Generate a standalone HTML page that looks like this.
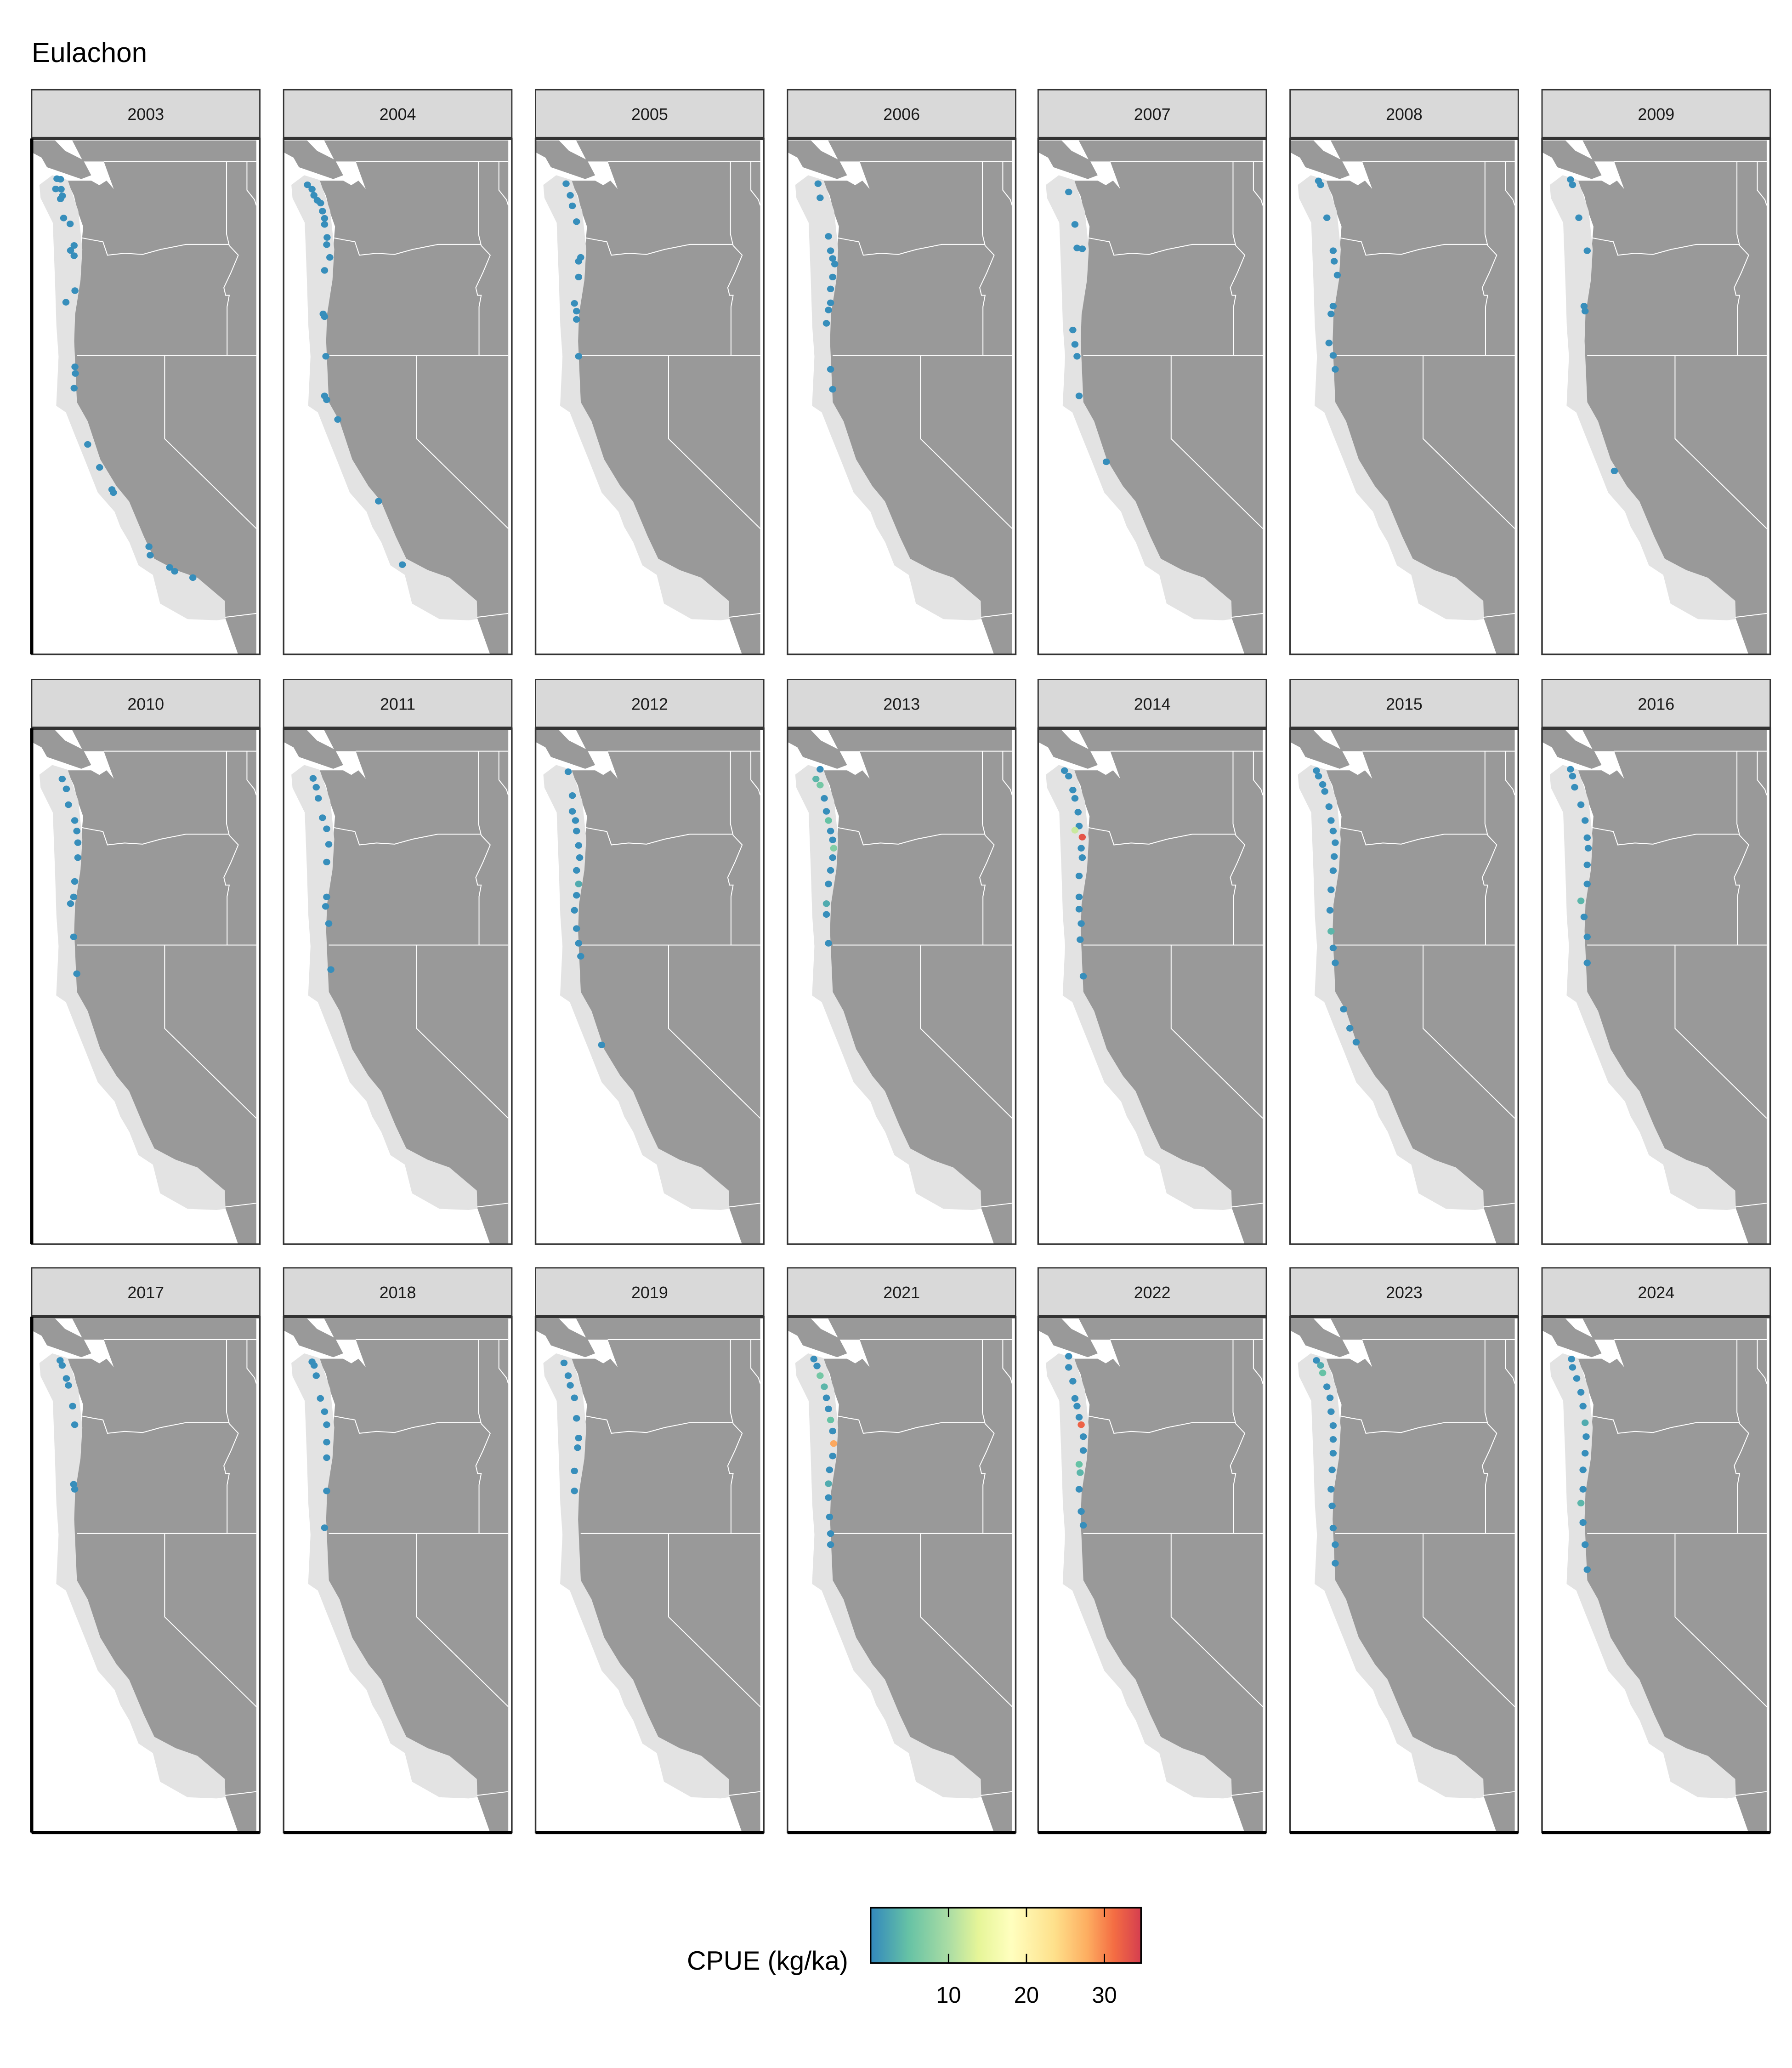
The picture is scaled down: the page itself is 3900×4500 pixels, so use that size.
<!DOCTYPE html>
<html><head><meta charset="utf-8"><style>html,body{margin:0;padding:0;background:#fff}svg{display:block}</style></head>
<body>
<svg id="chart" xmlns="http://www.w3.org/2000/svg" width="3900" height="4500" viewBox="0 0 1358.5 1567.5" preserveAspectRatio="none" font-family="Liberation Sans, sans-serif">
<rect width="1366" height="1576" fill="#fff"/>
<text x="24" y="47" font-size="21" fill="#000">Eulachon</text>
<g id="panels"></g>
<defs>
<linearGradient id="cbar" x1="0" x2="1" y1="0" y2="0">
<stop offset="0" stop-color="#3288bd"/><stop offset="0.14" stop-color="#66c2a5"/><stop offset="0.29" stop-color="#abdda4"/><stop offset="0.4" stop-color="#e6f598"/><stop offset="0.52" stop-color="#ffffbf"/><stop offset="0.68" stop-color="#fee08b"/><stop offset="0.8" stop-color="#fdae61"/><stop offset="0.9" stop-color="#f46d43"/><stop offset="1" stop-color="#d53e4f"/>
</linearGradient>
</defs>
<g>
<text x="643" y="1493" font-size="20" text-anchor="end">CPUE (kg/ka)</text>
<rect x="660" y="1446" width="205" height="42" fill="url(#cbar)" stroke="#000" stroke-width="1.2"/>
<g id="cticks"></g>
</g>
</svg>
<script>
var years = ["2003","2004","2005","2006","2007","2008","2009","2010","2011","2012","2013","2014","2015","2016","2017","2018","2019","2021","2022","2023","2024"];
var tickValues = [10, 20, 30];
var tickLabels = ["10", "20", "30"];
var cpueMax = 34.7;
var catch2003 = [[-125.15,48.38,0.5],[-124.98,48.36,0.5],[-125.21,48.01,0.5],[-124.95,48.0,0.5],[-124.89,47.76,0.5],[-124.98,47.65,0.5],[-124.83,46.96,0.5],[-124.52,46.75,0.5],[-124.33,45.97,0.5],[-124.5,45.79,0.5],[-124.33,45.6,0.5],[-124.29,44.34,0.5],[-124.72,43.92,0.5],[-124.29,41.59,0.5],[-124.27,41.35,0.5],[-124.33,40.82,0.5],[-123.68,38.79,0.5],[-123.11,37.96,0.5],[-122.52,37.16,0.5],[-122.45,37.05,0.5],[-120.75,35.1,0.5],[-120.69,34.79,0.5],[-119.76,34.35,0.5],[-119.52,34.21,0.5],[-118.65,33.98,0.5]];
var catch2004 = [[-125.22,48.16,0.5],[-125.0,48.0,0.5],[-124.91,47.78,0.5],[-124.75,47.6,0.5],[-124.59,47.5,0.5],[-124.5,47.21,0.5],[-124.4,46.95,0.5],[-124.4,46.73,0.5],[-124.28,46.26,0.5],[-124.3,46.0,0.5],[-124.15,45.54,0.5],[-124.4,45.07,0.5],[-124.47,43.5,0.5],[-124.4,43.4,0.5],[-124.34,41.97,0.5],[-124.4,40.54,0.5],[-124.3,40.4,0.5],[-123.77,39.69,0.5],[-121.82,36.74,0.5],[-120.68,34.45,0.5]];
var catch2005 = [[-124.9,48.2,0.5],[-124.7,47.78,0.5],[-124.6,47.4,0.5],[-124.4,46.83,0.5],[-124.2,45.54,0.5],[-124.3,45.4,0.5],[-124.3,44.83,0.5],[-124.5,43.88,0.5],[-124.4,43.6,0.5],[-124.4,43.3,0.5],[-124.3,41.97,0.5]];
var catch2006 = [[-124.9,48.2,0.5],[-124.8,47.69,0.5],[-124.4,46.3,0.5],[-124.3,45.78,0.5],[-124.2,45.5,0.5],[-124.1,45.3,0.5],[-124.2,44.83,0.5],[-124.3,44.4,0.5],[-124.3,43.9,0.5],[-124.4,43.64,0.5],[-124.5,43.16,0.5],[-124.3,41.5,0.5],[-124.2,40.78,0.5]];
var catch2007 = [[-124.9,47.9,0.5],[-124.6,46.73,0.5],[-124.5,45.88,0.5],[-124.25,45.85,0.5],[-124.7,42.92,0.5],[-124.6,42.4,0.5],[-124.5,41.97,0.5],[-124.4,40.54,0.5],[-123.1,38.16,0.5]];
var catch2008 = [[-125.0,48.3,0.5],[-124.9,48.16,0.5],[-124.6,46.97,0.5],[-124.3,45.78,0.5],[-124.25,45.4,0.5],[-124.1,44.9,0.5],[-124.3,43.78,0.5],[-124.4,43.5,0.5],[-124.5,42.45,0.5],[-124.3,42.0,0.5],[-124.2,41.5,0.5]];
var catch2009 = [[-125.0,48.35,0.5],[-124.9,48.16,0.5],[-124.6,46.97,0.5],[-124.2,45.78,0.5],[-124.35,43.78,0.5],[-124.3,43.6,0.5],[-122.9,37.83,0.5]];
var catch2010 = [[-124.9,48.0,0.5],[-124.7,47.64,0.5],[-124.6,47.07,0.5],[-124.3,46.5,0.5],[-124.2,46.12,0.5],[-124.15,45.7,0.5],[-124.15,45.16,0.5],[-124.3,44.3,0.5],[-124.35,43.74,0.5],[-124.5,43.5,0.5],[-124.35,42.3,0.5],[-124.2,40.97,0.5]];
var catch2011 = [[-124.95,48.02,0.5],[-124.8,47.7,0.5],[-124.7,47.3,0.5],[-124.5,46.6,0.5],[-124.3,46.2,0.5],[-124.2,45.64,0.5],[-124.3,45.0,0.5],[-124.3,43.74,0.5],[-124.35,43.4,0.5],[-124.2,42.78,0.5],[-124.1,41.12,0.5]];
var catch2012 = [[-124.8,48.26,0.5],[-124.6,47.4,0.5],[-124.6,46.83,0.5],[-124.45,46.5,0.5],[-124.4,46.12,0.5],[-124.3,45.6,0.5],[-124.25,45.16,0.5],[-124.4,44.7,0.5],[-124.3,44.21,3],[-124.4,43.8,0.5],[-124.5,43.26,0.5],[-124.4,42.6,0.5],[-124.3,42.07,0.5],[-124.2,41.6,0.5],[-123.2,38.4,0.5]];
var catch2013 = [[-124.8,48.35,0.5],[-125.0,48.0,4],[-124.8,47.78,6],[-124.6,47.3,0.5],[-124.5,46.83,0.5],[-124.4,46.5,5],[-124.3,46.12,0.5],[-124.2,45.8,0.5],[-124.15,45.5,7],[-124.2,45.16,0.5],[-124.3,44.7,0.5],[-124.4,44.21,0.5],[-124.5,43.5,3],[-124.5,43.11,0.5],[-124.4,42.07,0.5]];
var catch2014 = [[-125.1,48.3,0.5],[-124.9,48.1,0.5],[-124.7,47.6,0.5],[-124.6,47.3,0.5],[-124.45,46.8,0.5],[-124.4,46.3,0.5],[-124.6,46.15,12],[-124.25,45.9,33],[-124.3,45.5,0.5],[-124.25,45.16,0.5],[-124.4,44.5,0.5],[-124.4,43.74,0.5],[-124.4,43.3,0.5],[-124.3,42.78,0.5],[-124.35,42.2,0.5],[-124.2,40.88,0.5]];
var catch2015 = [[-125.1,48.3,0.5],[-125.0,48.1,0.5],[-124.8,47.8,0.5],[-124.7,47.55,0.5],[-124.5,47.0,0.5],[-124.4,46.5,0.5],[-124.3,46.12,0.5],[-124.2,45.7,0.5],[-124.25,45.2,0.5],[-124.3,44.69,0.5],[-124.4,44.0,0.5],[-124.45,43.26,0.5],[-124.4,42.5,4],[-124.3,41.9,0.5],[-124.2,41.36,0.5],[-123.8,39.69,0.5],[-123.5,39.0,0.5],[-123.2,38.5,0.5]];
var catch2016 = [[-125.0,48.35,0.5],[-124.9,48.1,0.5],[-124.8,47.7,0.5],[-124.5,47.07,0.5],[-124.3,46.5,0.5],[-124.2,45.88,0.5],[-124.15,45.5,0.5],[-124.2,44.9,0.5],[-124.2,44.21,0.5],[-124.5,43.6,4],[-124.35,43.02,0.5],[-124.2,42.3,0.5],[-124.2,41.36,0.5]];
var catch2017 = [[-125.0,48.25,0.5],[-124.9,48.07,0.5],[-124.7,47.6,0.5],[-124.6,47.35,0.5],[-124.4,46.6,0.5],[-124.3,45.93,0.5],[-124.35,43.78,0.5],[-124.3,43.6,0.5]];
var catch2018 = [[-125.0,48.2,0.5],[-124.9,48.07,0.5],[-124.8,47.7,0.5],[-124.6,46.88,0.5],[-124.4,46.4,0.5],[-124.3,45.93,0.5],[-124.3,45.3,0.5],[-124.3,44.74,0.5],[-124.3,43.54,0.5],[-124.4,42.21,0.5]];
var catch2019 = [[-125.0,48.16,0.5],[-124.8,47.7,0.5],[-124.7,47.35,0.5],[-124.5,46.9,0.5],[-124.4,46.16,0.5],[-124.3,45.45,0.5],[-124.35,45.1,0.5],[-124.5,44.26,0.5],[-124.5,43.54,0.5]];
var catch2021 = [[-125.1,48.3,0.5],[-124.95,48.05,0.5],[-124.8,47.7,6],[-124.6,47.3,4],[-124.5,46.9,0.5],[-124.4,46.5,0.5],[-124.3,46.1,5],[-124.2,45.7,0.5],[-124.15,45.25,28],[-124.2,44.8,0.5],[-124.35,44.3,0.5],[-124.4,43.8,3],[-124.4,43.3,0.5],[-124.35,42.6,0.5],[-124.3,42.0,0.5],[-124.3,41.6,0.5]];
var catch2022 = [[-124.9,48.4,0.5],[-124.9,48.0,0.5],[-124.7,47.5,0.5],[-124.6,46.88,0.5],[-124.5,46.6,0.5],[-124.4,46.2,0.5],[-124.3,45.93,32],[-124.2,45.5,0.5],[-124.2,45.0,0.5],[-124.4,44.5,5],[-124.35,44.2,4],[-124.4,43.6,0.5],[-124.3,42.8,0.5],[-124.2,42.3,0.5]];
var catch2023 = [[-125.1,48.25,0.5],[-124.9,48.07,3],[-124.8,47.8,5],[-124.6,47.3,0.5],[-124.45,46.9,0.5],[-124.4,46.4,0.5],[-124.3,45.9,0.5],[-124.3,45.4,0.5],[-124.3,44.9,0.5],[-124.35,44.3,0.5],[-124.4,43.6,0.5],[-124.35,43.0,0.5],[-124.3,42.2,0.5],[-124.2,41.6,0.5],[-124.2,40.93,0.5]];
var catch2024 = [[-124.95,48.3,0.5],[-124.9,48.0,0.5],[-124.7,47.6,0.5],[-124.5,47.1,0.5],[-124.4,46.6,0.5],[-124.3,46.0,3],[-124.25,45.5,0.5],[-124.3,44.9,0.5],[-124.4,44.3,0.5],[-124.4,43.6,0.5],[-124.5,43.1,4],[-124.4,42.4,0.5],[-124.3,41.6,0.5],[-124.2,40.7,0.5]];
var catches = [catch2003,catch2004,catch2005,catch2006,catch2007,catch2008,catch2009,catch2010,catch2011,catch2012,catch2013,catch2014,catch2015,catch2016,catch2017,catch2018,catch2019,catch2021,catch2022,catch2023,catch2024];

var NS = "http://www.w3.org/2000/svg";
var colX = [24,215,406,597,787,978,1169], rowY = [68,515,961];
var PW = 173, SH = 37, PH = 391;
function xLon(lon){ return (lon + 126.36) * 15.85; }
function yLat(lat){ return (49.83 - lat) * 21; }
function xBar(v){ return 660 + v / cpueMax * 205; }
var stops = [[0,[50,136,189]],[5,[102,194,165]],[10,[171,221,164]],[14,[230,245,152]],[18,[255,255,191]],[23.5,[254,224,139]],[27.7,[253,174,97]],[31.2,[244,109,67]],[34.7,[213,62,79]]];
function colorOf(v){
  for (var i=1;i<stops.length;i++){ if (v<=stops[i][0]){ var a=stops[i-1],b=stops[i],t=(v-a[0])/(b[0]-a[0]);
    var c=a[1].map(function(q,k){return Math.round(q+(b[1][k]-q)*t);}); return "rgb("+c.join(",")+")"; } }
  return "rgb(213,62,79)";
}
function mk(tag, attrs){ var e=document.createElementNS(NS,tag); for (var k in attrs) e.setAttribute(k, attrs[k]); return e; }

var landMain = "410,195 1430,195 1430,1540 1330,1540 1255,1440 1160,1380 1100,1340 980,1320 860,1290 800,1230 720,1140 650,1100 620,1090 540,1030 460,960 430,880 420,780 410,720 415,650 450,560 460,480 470,420 440,380 420,340 380,300 515,300 560,312 600,300 640,322 600,270 585,250 470,250";
var landIsland = "185,195 315,195 370,222 470,246 515,286 460,296 270,265 240,240 185,226";
var grid = "232,312 300,288 382,300 440,380 462,480 452,560 422,650 417,720 432,880 492,930 562,1030 652,1100 722,1140 802,1230 862,1290 982,1320 1102,1340 1252,1400 1255,1445 1210,1448 1050,1445 900,1405 860,1330 780,1305 730,1245 680,1205 648,1165 555,1115 488,1035 428,965 378,905 325,888 338,760 326,680 318,560 306,410 238,345";
var borders = ["465,450 520,455 580,460 605,495 700,490 800,493 900,480 1040,467 1280,467",
  "1265,250 1265,440 1280,470 1330,495 1290,540 1250,580 1260,600 1280,600 1268,630 1268,757",
  "435,757 1430,757","922,757 922,975 1430,1210","585,250 1430,250","1378,250 1378,325 1420,350 1430,365","1255,1442 1430,1432"];

var panels = document.getElementById("panels");
var defs = document.querySelector("defs");
years.forEach(function(yr, i){
  var c = i % 7, r = Math.floor(i / 7);
  var x0 = colX[c], y0 = rowY[r] + SH;
  var g = mk("g", {});
  
  
  var strip = mk("rect", {x:x0, y:rowY[r], width:PW, height:SH, fill:"#d9d9d9", stroke:"#333", "stroke-width":1});
  
  
  g.appendChild(strip);
  var lab = mk("text", {x:x0+PW/2, y:rowY[r]+23, "font-size":12.5, "text-anchor":"middle", fill:"#1a1a1a"});
  lab.textContent = yr;
  
  
  g.appendChild(lab);
  var cp = mk("clipPath", {id:"cp"+i}); cp.appendChild(mk("rect",{x:x0,y:y0,width:PW,height:PH})); defs.appendChild(cp);
  var inner = mk("g", {"clip-path":"url(#cp"+i+")"});
  inner.appendChild(mk("rect",{x:x0,y:y0,width:PW,height:PH,fill:"#fff"}));
  var mg = mk("g", {transform:"translate("+x0+","+y0+") scale("+(1/7.31)+","+(1/3.45)+") translate(-185,-190)"});
  var land = mk("polygon",{points:landMain, fill:"#999"});
  
  
  mg.appendChild(land);
  mg.appendChild(mk("polygon",{points:landIsland, fill:"#999"}));
  var gr = mk("polygon",{points:grid, fill:"#e3e3e3", stroke:"#e3e3e3", "stroke-width":3, "vector-effect":"non-scaling-stroke", "stroke-linejoin":"round"});
  
  
  mg.appendChild(gr);
  borders.forEach(function(b){ mg.appendChild(mk("polyline",{points:b, fill:"none", stroke:"#fff", "stroke-width":2, "vector-effect":"non-scaling-stroke"})); });
  inner.appendChild(mg);
  catches[i].forEach(function(d){
    var dot = mk("ellipse",{cx:x0+xLon(d[0]), cy:y0+yLat(d[1]), rx:2.7, ry:2.5, fill:colorOf(d[2])});
    
    
    inner.appendChild(dot);
  });
  g.appendChild(inner);
  var fr = mk("rect",{x:x0,y:y0,width:PW,height:PH,fill:"none",stroke:"#333","stroke-width":1.2});
  
  
  g.appendChild(fr);
  g.appendChild(mk("line",{x1:x0,x2:x0+PW,y1:y0,y2:y0,stroke:"#333","stroke-width":2.5}));
  if (c === 0) g.appendChild(mk("line",{x1:x0,x2:x0,y1:y0,y2:y0+PH,stroke:"#000","stroke-width":2.5}));
  if (r === 2) g.appendChild(mk("line",{x1:x0,x2:x0+PW,y1:y0+PH,y2:y0+PH,stroke:"#000","stroke-width":2.5}));
  panels.appendChild(g);
});
var ct = document.getElementById("cticks");
tickValues.forEach(function(v, k){
  var x = xBar(v);
  ct.appendChild(mk("line",{x1:x,x2:x,y1:1446,y2:1453,stroke:"#000","stroke-width":1}));
  ct.appendChild(mk("line",{x1:x,x2:x,y1:1481,y2:1488,stroke:"#000","stroke-width":1}));
  var t = mk("text",{x:x, y:1518, "font-size":17, "text-anchor":"middle"});
  t.textContent = tickLabels[k];
  
  
  ct.appendChild(t);
});
</script>
</body></html>
